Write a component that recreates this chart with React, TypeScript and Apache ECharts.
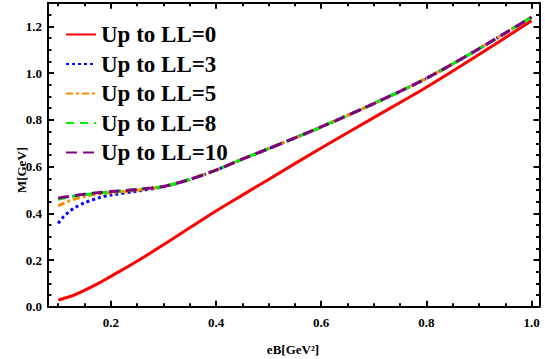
import React, { useEffect, useRef } from "react";
import * as echarts from "echarts";

const eB = [0.1, 0.11, 0.12, 0.13, 0.15, 0.18, 0.2, 0.25, 0.3, 0.35, 0.4, 0.45, 0.5, 0.6, 0.7, 0.8, 0.9, 1.0];
const ll0 = [0.028, 0.035, 0.042, 0.05, 0.07, 0.104, 0.13, 0.195, 0.265, 0.338, 0.41, 0.478, 0.545, 0.68, 0.81, 0.94, 1.08, 1.225];
const ll3 = [0.357, 0.385, 0.405, 0.422, 0.445, 0.468, 0.478, 0.495, 0.513, 0.545, 0.585, 0.632, 0.677, 0.77, 0.87, 0.978, 1.105, 1.24];
const ll5 = [0.432, 0.443, 0.452, 0.46, 0.472, 0.483, 0.488, 0.499, 0.515, 0.545, 0.585, 0.632, 0.677, 0.77, 0.87, 0.978, 1.105, 1.24];
const ll8 = [0.46, 0.465, 0.47, 0.474, 0.48, 0.487, 0.492, 0.502, 0.515, 0.545, 0.585, 0.632, 0.677, 0.77, 0.87, 0.978, 1.105, 1.24];
const ll10 = [0.465, 0.469, 0.472, 0.476, 0.482, 0.489, 0.493, 0.502, 0.515, 0.545, 0.585, 0.632, 0.677, 0.77, 0.87, 0.978, 1.105, 1.24];

const seriesNames = ["Up to LL=0", "Up to LL=3", "Up to LL=5", "Up to LL=8", "Up to LL=10"];

const xMajor = [0.2, 0.4, 0.6, 0.8, 1.0];
const xMinor = [0.1, 0.15, 0.25, 0.3, 0.35, 0.45, 0.5, 0.55, 0.65, 0.7, 0.75, 0.85, 0.9, 0.95];
const yMajor = [0, 0.2, 0.4, 0.6, 0.8, 1.0, 1.2];
const yMinor = [0.05, 0.1, 0.15, 0.25, 0.3, 0.35, 0.45, 0.5, 0.55, 0.65, 0.7, 0.75, 0.85, 0.9, 0.95, 1.05, 1.1, 1.15, 1.25, 1.3];

const X_MIN = 0.0806;
const X_MAX = 1.015;
const Y_MIN = 0;
const Y_MAX = 1.302;

const FONT = "'Liberation Serif', 'Times New Roman', serif";

function axisDef(
  kind: "x" | "y",
  position: string,
  values: number[],
  major: boolean,
  showLabels: boolean
) {
  return {
    type: "value",
    position,
    min: kind === "x" ? X_MIN : Y_MIN,
    max: kind === "x" ? X_MAX : Y_MAX,
    axisLine: { show: major, onZero: false, lineStyle: { color: "#000", width: 2 } },
    axisTick: {
      show: true,
      inside: true,
      length: major ? 6 : 3.5,
      customValues: values,
      lineStyle: { color: "#000", width: 2 },
    },
    axisLabel: showLabels
      ? {
          show: true,
          customValues: values,
          formatter: (v: number) => v.toFixed(1),
          color: "#000",
          fontFamily: FONT,
          fontWeight: "bold",
          fontSize: 13,
          margin: kind === "x" ? 9 : 6,
        }
      : { show: false },
    splitLine: { show: false },
    minorTick: { show: false },
  };
}

export default function App() {
  const ref = useRef<HTMLDivElement>(null);
  useEffect(() => {
    if (!ref.current) return;
    const chart = echarts.init(ref.current, null, { renderer: "svg" });
    const mk = (ys: number[]) => eB.map((x, i) => [x, ys[i]]);
    const lineCommon = {
      type: "line",
      symbol: "none",
      smooth: 0.3,
      xAxisIndex: 0,
      yAxisIndex: 0,
    };
    chart.setOption({
      animation: false,
      backgroundColor: "#fff",
      grid: { left: 48, right: 5.5, top: 2.7, bottom: 52.3, containLabel: false },
      xAxis: [
        axisDef("x", "bottom", xMajor, true, true),
        axisDef("x", "bottom", xMinor, false, false),
        axisDef("x", "top", xMajor, true, false),
        axisDef("x", "top", xMinor, false, false),
      ],
      yAxis: [
        axisDef("y", "left", yMajor, true, true),
        axisDef("y", "left", yMinor, false, false),
        axisDef("y", "right", yMajor, true, false),
        axisDef("y", "right", yMinor, false, false),
      ],
      legend: {
        show: true,
        orient: "vertical",
        left: 65,
        top: 23,
        padding: 0,
        itemWidth: 30,
        itemHeight: 10,
        itemGap: 6.5,
        data: seriesNames,
        itemStyle: { opacity: 0 },
        textStyle: {
          fontFamily: FONT,
          fontWeight: "bold",
          fontSize: 23,
          lineHeight: 22,
          color: "#000",
        },
      },
      graphic: [
        {
          type: "text",
          x: 21,
          y: 170,
          rotation: Math.PI / 2,
          style: {
            text: "M[GeV]",
            fontFamily: FONT,
            fontWeight: "bold",
            fontSize: 13,
            fill: "#000",
            textAlign: "center",
            textVerticalAlign: "middle",
          },
        },
        {
          type: "text",
          x: 293,
          y: 349,
          style: {
            text: "eB[GeV²]",
            fontFamily: FONT,
            fontWeight: "bold",
            fontSize: 13,
            fill: "#000",
            textAlign: "center",
            textVerticalAlign: "middle",
          },
        },
      ],
      series: [
        {
          ...lineCommon,
          name: seriesNames[0],
          data: mk(ll0),
          lineStyle: { color: "#ff0000", width: 3, type: "solid" },
          itemStyle: { color: "#ff0000" },
        },
        {
          ...lineCommon,
          name: seriesNames[1],
          data: mk(ll3),
          lineStyle: { color: "#0000ff", width: 3, type: [3, 3] },
          itemStyle: { color: "#0000ff" },
        },
        {
          ...lineCommon,
          name: seriesNames[2],
          data: mk(ll5),
          lineStyle: { color: "#ff8c00", width: 3, type: [7, 3, 3, 3] },
          itemStyle: { color: "#ff8c00" },
        },
        {
          ...lineCommon,
          name: seriesNames[3],
          data: mk(ll8),
          lineStyle: { color: "#00ee00", width: 3, type: [8, 6] },
          itemStyle: { color: "#00ee00" },
        },
        {
          ...lineCommon,
          name: seriesNames[4],
          data: mk(ll10),
          lineStyle: { color: "#800080", width: 3, type: [11, 6] },
          itemStyle: { color: "#800080" },
        },
      ],
    });
    return () => chart.dispose();
  }, []);
  return <div ref={ref} style={{ width: 545, height: 359, position: "absolute", left: 0, top: 0 }} />;
}
